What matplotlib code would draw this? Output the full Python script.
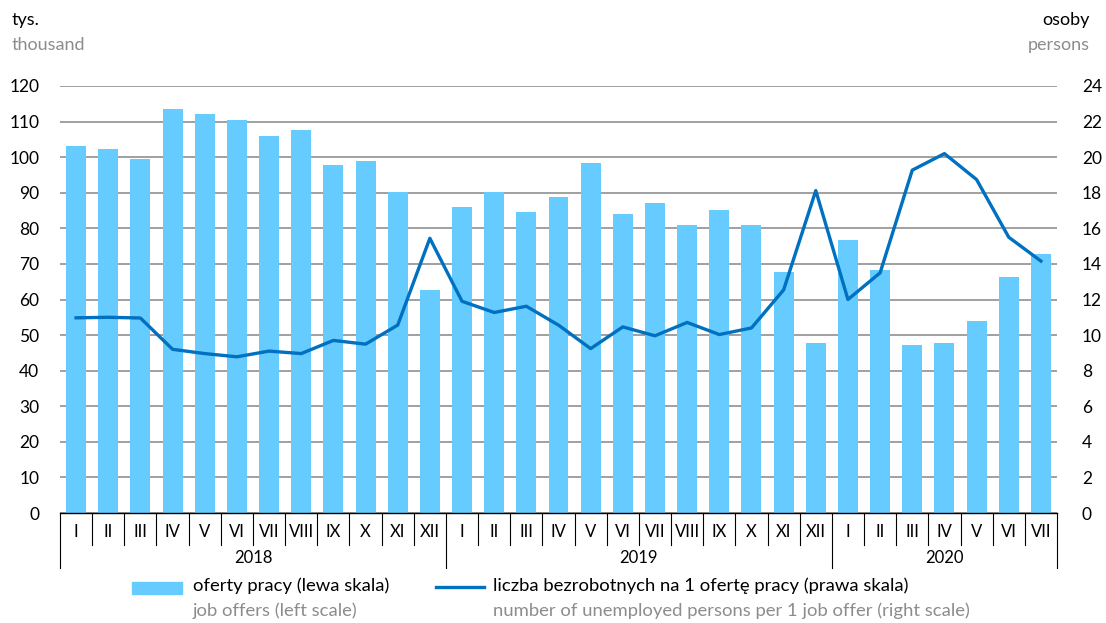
import numpy as np
import matplotlib
matplotlib.use("Agg")
from matplotlib import pyplot as plt
from matplotlib.patches import Rectangle
from matplotlib.lines import Line2D

months = ["I", "II", "III", "IV", "V", "VI", "VII", "VIII", "IX", "X", "XI", "XII"] * 2 + \
         ["I", "II", "III", "IV", "V", "VI", "VII"]
years = ["2018", "2019", "2020"]
year_len = [12, 12, 7]

# job offers, thousand (left scale)
offers = [103.1, 102.3, 99.6, 113.5, 112.0, 110.4, 105.9, 107.5, 97.9, 99.0, 90.2, 62.7,
          86.0, 90.3, 84.5, 88.7, 98.3, 83.9, 87.2, 80.8, 85.1, 80.9, 67.7, 47.7,
          76.7, 68.2, 47.2, 47.8, 54.0, 66.3, 72.8]
# unemployed persons per 1 job offer (right scale)
ratio = [10.97, 11.0, 10.96, 9.2, 8.96, 8.78, 9.1, 8.96, 9.7, 9.49, 10.56, 15.44,
         11.9, 11.27, 11.62, 10.56, 9.24, 10.46, 9.96, 10.71, 10.03, 10.4, 12.54, 18.12,
         12.0, 13.5, 19.27, 20.2, 18.74, 15.5, 14.16]

plt.rcParams['font.family'] = ['Lato', 'DejaVu Sans']
BAR = '#66CCFF'
LINE = '#0070C0'
GREY = '#8C8C8C'

fig = plt.figure(figsize=(11.06, 6.23), dpi=100)
ax = fig.add_axes([60 / 1106, 1 - 513 / 623, (1057 - 60) / 1106, (513 - 86) / 623])
ax2 = ax.twinx()

x = np.arange(len(offers))
ax.bar(x, offers, width=0.62, color=BAR, zorder=2)
ax.set_xlim(-0.5, len(offers) - 0.5)
ax.set_ylim(0, 120)
ax.set_yticks(np.arange(0, 121, 10))
ax.yaxis.grid(True, color='#999999', linewidth=1.3, zorder=0)
ax.set_axisbelow(True)

ax2.plot(x, ratio, color=LINE, linewidth=2.4, zorder=3)
ax2.set_ylim(0, 24)
ax2.set_yticks(np.arange(0, 25, 2))

for a in (ax, ax2):
    for s in ('left', 'right', 'top'):
        a.spines[s].set_visible(False)
    a.set_xticks([])
ax.tick_params(axis='y', length=0, labelsize=12.5, pad=15)
ax2.tick_params(axis='y', length=0, labelsize=12.5, pad=18)
ax.spines['bottom'].set_color('black')
ax.spines['bottom'].set_linewidth(1.0)
ax2.spines['bottom'].set_visible(False)
ax.set_zorder(1)
ax2.set_zorder(2)
ax2.patch.set_visible(False)

# month and year labels below axis
tr = ax.get_xaxis_transform()
for i, m in enumerate(months):
    ax.text(i, -0.045, m, transform=tr, ha='center', va='center', fontsize=12)
bounds = np.cumsum([0] + year_len)
for b in range(len(months) + 1):
    depth = -0.128 if b in bounds else -0.075
    ax.plot([b - 0.5, b - 0.5], [0, depth], transform=tr, color='black',
            linewidth=0.8, clip_on=False)
for yr, s, n in zip(years, bounds[:-1], year_len):
    ax.text(s + n / 2 - 0.5, -0.105, yr, transform=tr, ha='center', va='center', fontsize=12)

# headers
fig.text(12 / 1106, 1 - 20 / 623, "tys.", fontsize=13, va='center', ha='left')
fig.text(12 / 1106, 1 - 45 / 623, "thousand", fontsize=13, va='center', ha='left', color=GREY)
fig.text(1090 / 1106, 1 - 20 / 623, "osoby", fontsize=13, va='center', ha='right')
fig.text(1090 / 1106, 1 - 45 / 623, "persons", fontsize=13, va='center', ha='right', color=GREY)

# legend
fig.patches.append(Rectangle((132 / 1106, 1 - 594 / 623), 50 / 1106, 12 / 623,
                             transform=fig.transFigure, color=BAR))
fig.lines.append(Line2D([436 / 1106, 484 / 1106], [1 - 587 / 623] * 2,
                        transform=fig.transFigure, color=LINE, linewidth=2.4))
fig.text(193 / 1106, 1 - 586 / 623, "oferty pracy (lewa skala)", fontsize=13.3, va='center')
fig.text(193 / 1106, 1 - 611 / 623, "job offers (left scale)", fontsize=13.3, va='center', color=GREY)
fig.text(493 / 1106, 1 - 586 / 623, "liczba bezrobotnych na 1 ofertę pracy (prawa skala)",
         fontsize=13.3, va='center')
fig.text(493 / 1106, 1 - 611 / 623, "number of unemployed persons per 1 job offer (right scale)",
         fontsize=13.3, va='center', color=GREY)

fig.savefig("out.png", dpi=100)
